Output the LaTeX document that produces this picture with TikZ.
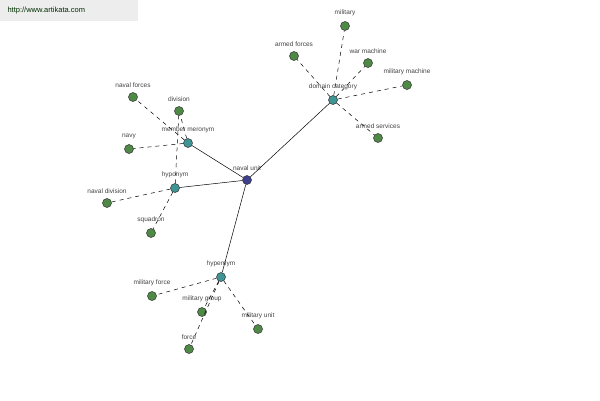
\documentclass[tikz,border=0pt]{standalone}
\usepackage{fontspec}
\setmainfont{Liberation Sans}
\definecolor{leaf}{HTML}{4E8A45}
\definecolor{rel}{HTML}{3F9494}
\definecolor{root}{HTML}{3F3F8F}
\definecolor{txt}{HTML}{444444}
\begin{document}
\begin{tikzpicture}[x=1pt,y=-1pt,
  dot/.style={circle,draw=black!80,line width=0.5pt,inner sep=0pt,minimum size=9pt},
  lf/.style={dot,fill=leaf},
  rl/.style={dot,fill=rel},
  rt/.style={dot,fill=root},
  lab/.style={font=\fontsize{6.5}{7}\selectfont,text=txt},
  solidl/.style={black,line width=0.5pt},
  dashl/.style={black,line width=0.5pt,dash pattern=on 4pt off 4pt}]
\fill[white] (0,0) rectangle (600,400);
\fill[black!7] (0,0) rectangle (138,21);
\node[anchor=west,font=\fontsize{7.5}{8}\selectfont,text=black!70!green!60!black] (wm) at (4,11) {http://www.artikata.com};
\node[rt] (nu) at (247,180) {};
\node[rl] (mm) at (188,143) {};
\node[rl] (hy) at (175,188) {};
\node[rl] (he) at (221,277) {};
\node[rl] (dc) at (333,100) {};
\foreach \n/\x/\y in {nf/133/97, dv/179/111, nv/129/149, nd/107/203, sq/151/233,
  mi/345/26, af/294/56, wm2/368/63, mmc/407/85, as/378/138,
  mf/152/296, mg/202/312, mu/258/329, fo/189/349}
  \node[lf] (\n) at (\x,\y) {};
\foreach \n/\t in {nu/naval unit, mm/member meronym, hy/hyponym, he/hypernym, dc/domain category,
  nf/naval forces, dv/division, nv/navy, nd/naval division, sq/squadron,
  mi/military, af/armed forces, wm2/war machine, mmc/military machine, as/armed services,
  mf/military force, mg/military group, mu/military unit, fo/force}
  \node[lab,above=1.5pt] at (\n.north) {\t};
\begin{scope}[on background layer/.style={}]
\end{scope}
\draw[solidl] (nu) -- (mm);
\draw[solidl] (nu) -- (hy);
\draw[solidl] (nu) -- (he);
\draw[solidl] (nu) -- (dc);
\foreach \a/\b in {mm/nf, mm/dv, mm/nv, hy/nd, hy/sq, hy/dv, dc/mi, dc/af, dc/wm2, dc/mmc, dc/as, he/mf, he/mg, he/mu, he/fo}
  \draw[dashl] (\a) -- (\b);
\end{tikzpicture}
\end{document}
